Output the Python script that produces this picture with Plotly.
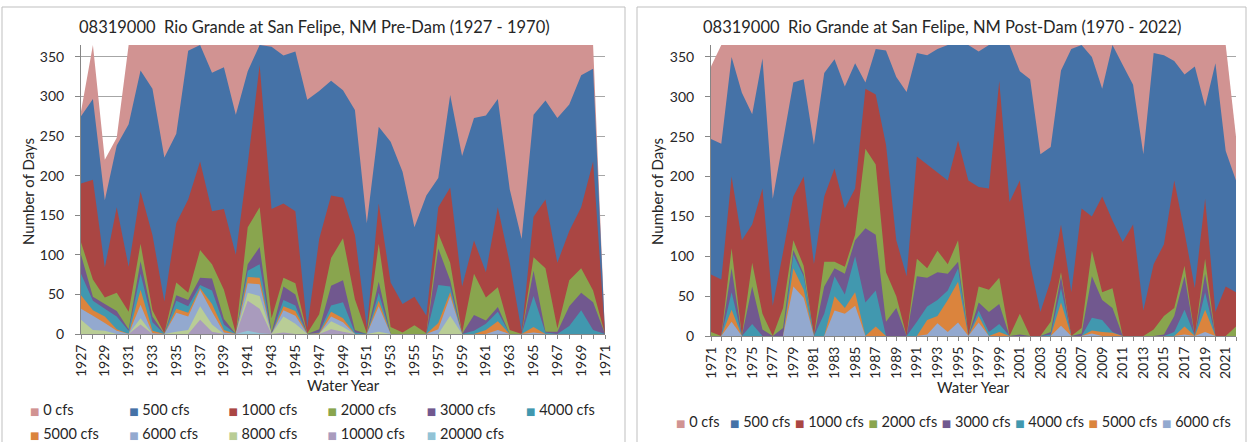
import plotly.graph_objects as go

W, H = 1250, 442

# ---------------- Pre-dam panel (1927 - 1971) ----------------
years_pre = [1927, 1928, 1929, 1930, 1931, 1932, 1933, 1934, 1935, 1936,
             1937, 1938, 1939, 1940, 1941, 1942, 1943, 1944, 1945, 1946,
             1947, 1948, 1949, 1950, 1951, 1952, 1953, 1954, 1955, 1956,
             1957, 1958, 1959, 1960, 1961, 1962, 1963, 1964, 1965, 1966,
             1967, 1968, 1969, 1970, 1971]

pre_0 = [281, 365, 220, 248, 365, 365, 365, 365, 365, 365,
         365, 365, 365, 365, 365, 365, 365, 365, 365, 365,
         365, 365, 365, 365, 365, 365, 365, 365, 365, 365,
         365, 365, 365, 365, 365, 365, 365, 365, 365, 365,
         365, 365, 365, 365, 0]
pre_500 = [275, 297, 169, 238, 265, 333, 310, 223, 253, 358,
           365, 330, 337, 277, 332, 365, 363, 352, 357, 296,
           307, 320, 308, 283, 140, 262, 243, 205, 135, 175,
           197, 302, 225, 273, 276, 297, 183, 120, 277, 295,
           273, 290, 327, 335, 0]
pre_1000 = [190, 195, 84, 160, 85, 180, 125, 41, 140, 170,
            218, 155, 158, 100, 215, 340, 158, 165, 155, 8,
            120, 175, 172, 125, 8, 165, 65, 38, 47, 23,
            160, 185, 60, 118, 78, 160, 90, 3, 148, 170,
            90, 130, 160, 218, 0]
pre_2000 = [116, 69, 46, 52, 28, 114, 30, 1, 65, 52,
            106, 88, 56, 1, 135, 160, 20, 71, 64, 1,
            25, 96, 121, 44, 1, 114, 9, 2, 11, 1,
            127, 90, 1, 76, 46, 59, 5, 0, 97, 83,
            7, 68, 83, 55, 0]
pre_3000 = [100, 47, 38, 29, 6, 92, 22, 0, 49, 43,
            71, 70, 19, 0, 88, 110, 2, 60, 50, 0,
            6, 61, 68, 5, 0, 66, 0, 0, 0, 0,
            108, 68, 0, 24, 17, 34, 0, 0, 80, 3,
            3, 35, 52, 40, 0]
pre_4000 = [76, 42, 32, 22, 4, 76, 15, 0, 42, 35,
            62, 55, 12, 0, 80, 88, 0, 43, 36, 0,
            2, 36, 40, 2, 0, 52, 0, 0, 0, 0,
            62, 60, 0, 4, 13, 28, 0, 0, 48, 2,
            0, 10, 30, 5, 0]
pre_5000 = [49, 30, 22, 6, 0, 56, 4, 0, 32, 27,
            58, 38, 5, 0, 72, 71, 0, 35, 29, 0,
            1, 28, 20, 0, 0, 42, 0, 0, 0, 0,
            14, 53, 0, 0, 5, 16, 0, 0, 9, 0,
            0, 0, 0, 0, 0]
pre_6000 = [32, 23, 14, 4, 0, 37, 1, 0, 27, 22,
            56, 28, 2, 0, 64, 63, 0, 30, 23, 0,
            0, 22, 15, 0, 0, 35, 0, 0, 0, 0,
            6, 48, 0, 0, 0, 5, 0, 0, 2, 0,
            0, 0, 0, 0, 0]
pre_8000 = [18, 5, 4, 0, 0, 20, 0, 0, 3, 5,
            35, 12, 0, 0, 52, 48, 0, 22, 13, 0,
            0, 16, 9, 0, 0, 3, 0, 0, 0, 0,
            0, 23, 0, 0, 0, 0, 0, 0, 0, 0,
            0, 0, 0, 0, 0]
pre_10000 = [0, 0, 0, 0, 0, 12, 0, 0, 0, 0,
             18, 3, 0, 0, 42, 32, 0, 2, 0, 0,
             0, 6, 3, 0, 0, 0, 0, 0, 0, 0,
             0, 0, 0, 0, 0, 0, 0, 0, 0, 0,
             0, 0, 0, 0, 0]
pre_20000 = [0, 0, 0, 0, 0, 0, 0, 0, 0, 0,
             0, 0, 0, 0, 4, 1, 0, 0, 0, 0,
             0, 0, 0, 0, 0, 0, 0, 0, 0, 0,
             0, 0, 0, 0, 0, 0, 0, 0, 0, 0,
             0, 0, 0, 0, 0]

# ---------------- Post-dam panel (1971 - 2022) ----------------
years_post = [1971, 1972, 1973, 1974, 1975, 1976, 1977, 1978, 1979, 1980,
              1981, 1982, 1983, 1984, 1985, 1986, 1987, 1988, 1989, 1990,
              1991, 1992, 1993, 1994, 1995, 1996, 1997, 1998, 1999, 2000,
              2001, 2002, 2003, 2004, 2005, 2006, 2007, 2008, 2009, 2010,
              2011, 2012, 2013, 2014, 2015, 2016, 2017, 2018, 2019, 2020,
              2021, 2022]

post_0 = [338, 365, 365, 365, 365, 365, 365, 365, 365, 365,
          365, 365, 365, 365, 365, 365, 365, 365, 365, 365,
          365, 365, 365, 365, 365, 365, 365, 365, 365, 365,
          365, 365, 365, 365, 365, 365, 365, 365, 365, 365,
          365, 365, 365, 365, 365, 365, 365, 365, 365, 365,
          365, 250]
post_500 = [247, 241, 350, 305, 278, 348, 172, 245, 318, 322,
            240, 330, 347, 313, 342, 318, 360, 358, 325, 306,
            355, 352, 360, 365, 365, 365, 357, 365, 365, 365,
            332, 322, 228, 237, 333, 360, 365, 350, 310, 365,
            340, 315, 228, 355, 352, 345, 328, 338, 288, 342,
            232, 195]
post_1000 = [77, 71, 200, 120, 140, 185, 38, 105, 175, 200,
             90, 175, 210, 160, 185, 310, 303, 240, 120, 75,
             225, 215, 205, 195, 245, 195, 187, 185, 320, 168,
             195, 90, 30, 70, 140, 55, 160, 150, 175, 145,
             118, 140, 32, 90, 115, 195, 130, 60, 172, 30,
             62, 55]
post_2000 = [5, 0, 110, 0, 92, 28, 0, 35, 120, 88,
             0, 93, 93, 87, 127, 235, 215, 80, 50, 0,
             97, 85, 107, 90, 120, 0, 62, 58, 73, 0,
             28, 0, 0, 18, 80, 0, 10, 107, 55, 60,
             0, 0, 0, 8, 25, 35, 88, 0, 97, 0,
             0, 12]
post_3000 = [0, 0, 85, 0, 62, 8, 0, 10, 108, 78,
             0, 62, 85, 78, 120, 135, 127, 18, 35, 0,
             75, 73, 80, 78, 93, 0, 42, 30, 40, 0,
             2, 0, 0, 5, 75, 0, 3, 75, 45, 35,
             0, 0, 0, 0, 2, 25, 75, 0, 78, 0,
             0, 0]
post_4000 = [0, 0, 55, 0, 15, 0, 0, 0, 102, 75,
             0, 28, 75, 52, 100, 42, 57, 0, 0, 0,
             18, 37, 45, 57, 85, 0, 32, 5, 15, 0,
             0, 0, 0, 2, 60, 0, 0, 23, 20, 5,
             0, 0, 0, 0, 0, 5, 33, 0, 55, 0,
             0, 0]
post_5000 = [0, 0, 33, 0, 0, 0, 0, 0, 85, 58,
             0, 0, 50, 35, 55, 0, 12, 0, 0, 0,
             0, 20, 25, 45, 68, 0, 25, 0, 5, 0,
             0, 0, 0, 0, 42, 0, 0, 7, 5, 4,
             0, 0, 0, 0, 0, 0, 12, 0, 33, 0,
             0, 0]
post_6000 = [0, 0, 18, 0, 0, 0, 0, 0, 62, 48,
             0, 0, 32, 28, 38, 0, 0, 0, 0, 0,
             0, 2, 16, 5, 17, 0, 17, 0, 0, 0,
             0, 0, 0, 0, 13, 0, 0, 3, 0, 0,
             0, 0, 0, 0, 0, 0, 2, 0, 5, 0,
             0, 0]

names_pre = ["0 cfs", "500 cfs", "1000 cfs", "2000 cfs", "3000 cfs", "4000 cfs",
             "5000 cfs", "6000 cfs", "8000 cfs", "10000 cfs", "20000 cfs"]
names_post = ["0 cfs", "500 cfs", "1000 cfs", "2000 cfs", "3000 cfs", "4000 cfs",
              "5000 cfs", "6000 cfs"]
series_colors = ["#D19392", "#4572A7", "#AA4643", "#89A54E", "#71588F", "#4198AF",
                 "#DB843D", "#93A9CF", "#B9CD96", "#A99BBD", "#92C3D6"]

pre_series = [pre_0, pre_500, pre_1000, pre_2000, pre_3000, pre_4000,
              pre_5000, pre_6000, pre_8000, pre_10000, pre_20000]
post_series = [post_0, post_500, post_1000, post_2000, post_3000, post_4000,
               post_5000, post_6000]

title_pre = "08319000\u00a0 Rio Grande at San Felipe, NM Pre-Dam (1927 - 1970)"
title_post = "08319000\u00a0 Rio Grande at San Felipe, NM Post-Dam (1970 - 2022)"

TXT = "#262626"
AX = "#868686"
GRID = "#A6A6A6"
FONT = "Lato, DejaVu Sans, sans-serif"
CLEAR = "rgba(0,0,0,0)"

fig = go.Figure()

# overlapping areas, back (0 cfs) to front
for vals, col in zip(pre_series, series_colors):
    fig.add_trace(go.Scatter(x=years_pre, y=vals, mode="none", fill="tozeroy",
                             fillcolor=col, xaxis="x", yaxis="y",
                             showlegend=False, hoverinfo="skip"))
for vals, col in zip(post_series, series_colors):
    fig.add_trace(go.Scatter(x=years_post, y=vals, mode="none", fill="tozeroy",
                             fillcolor=col, xaxis="x2", yaxis="y2",
                             showlegend=False, hoverinfo="skip"))


def legend_label(name, col):
    return ('<span style="color:%s;font-size:10px;font-family:DejaVu Sans">\u25A0</span> %s'
            % (col, name))


# legend entries: left panel (two rows), right panel (one row)
pre_widths = [64.2, 64.2, 64.2, 64.2, 64.2, 80,
              64.2, 64.2, 64.2, 64.2, 90]
for i, (name, col, lw) in enumerate(zip(names_pre, series_colors, pre_widths)):
    fig.add_trace(go.Scatter(x=[None], y=[None], mode="markers",
                             marker=dict(size=1, color=CLEAR, line=dict(width=0, color=CLEAR)),
                             name=legend_label(name, col), xaxis="x", yaxis="y",
                             legend="legend" if i < 6 else "legend2",
                             legendwidth=lw, hoverinfo="skip"))
post_widths = [9, 20, 28.4, 28.4, 28.4, 28.4, 28.4, 75]
for name, col, lw in zip(names_post, series_colors, post_widths):
    fig.add_trace(go.Scatter(x=[None], y=[None], mode="markers",
                             marker=dict(size=1, color=CLEAR, line=dict(width=0, color=CLEAR)),
                             name=legend_label(name, col), xaxis="x2", yaxis="y2",
                             legend="legend3", legendwidth=lw, hoverinfo="skip"))


def xaxis_cfg(domain, rng, anchor):
    return dict(domain=domain, range=rng, anchor=anchor, tick0=rng[0], dtick=2,
                tickangle=-90, showgrid=False, zeroline=False,
                showline=True, linecolor=AX, linewidth=1,
                ticks="outside", ticklen=4, tickcolor=AX,
                minor=dict(dtick=1, tick0=rng[0], ticks="outside", ticklen=4,
                           tickcolor=AX, showgrid=False),
                tickfont=dict(family=FONT, size=14, color=TXT), fixedrange=True)


def yaxis_cfg(domain, anchor):
    return dict(domain=domain, range=[0, 365], anchor=anchor,
                tickvals=[0, 50, 100, 150, 200, 250, 300, 350],
                showgrid=True, gridcolor=GRID, gridwidth=1, zeroline=False,
                showline=True, linecolor=AX, linewidth=1,
                ticks="outside", ticklen=5, tickcolor=AX, ticklabelstandoff=8,
                tickfont=dict(family=FONT, size=14, color=TXT), fixedrange=True)


leg_common = dict(orientation="h", xanchor="left", yanchor="middle",
                  bgcolor=CLEAR, borderwidth=0,
                  font=dict(family=FONT, size=14.5, color=TXT))

axis_title_font = dict(family=FONT, size=15, color=TXT)

fig.update_layout(
    width=W, height=H,
    margin=dict(l=0, r=0, t=0, b=0, autoexpand=False),
    paper_bgcolor="white", plot_bgcolor="white",
    font=dict(family=FONT, size=14, color=TXT),
    hovermode=False,
    xaxis=xaxis_cfg([81 / W, 605 / W], [1927, 1971], "y"),
    yaxis=yaxis_cfg([1 - 334 / H, 1 - 45.1 / H], "x"),
    xaxis2=xaxis_cfg([711 / W, 1236 / W], [1971, 2022], "y2"),
    yaxis2=yaxis_cfg([1 - 336 / H, 1 - 45 / H], "x2"),
    legend=dict(leg_common, x=0, y=1 - 409 / H, indentation=-10),
    legend2=dict(leg_common, x=0, y=1 - 433 / H, indentation=-10),
    legend3=dict(leg_common, x=636 / W, y=1 - 421 / H),
    shapes=[
        dict(type="rect", xref="paper", yref="paper", x0=2 / W, x1=625 / W,
             y0=-0.02, y1=1 - 7 / H, line=dict(color="#BFBFBF", width=1),
             fillcolor=CLEAR, layer="below"),
        dict(type="rect", xref="paper", yref="paper", x0=637 / W, x1=1246 / W,
             y0=-0.02, y1=1 - 7 / H, line=dict(color="#BFBFBF", width=1),
             fillcolor=CLEAR, layer="below"),
    ],
    annotations=[
        dict(text=title_pre, x=314 / W, y=1 - 27 / H, xref="paper", yref="paper",
             showarrow=False, xanchor="center", yanchor="middle",
             font=dict(family=FONT, size=16.5, color=TXT)),
        dict(text=title_post, x=942 / W, y=1 - 27 / H, xref="paper", yref="paper",
             showarrow=False, xanchor="center", yanchor="middle",
             font=dict(family=FONT, size=16.5, color=TXT)),
        dict(text="Number of Days", x=28 / W, y=1 - 192 / H, xref="paper", yref="paper",
             showarrow=False, textangle=-90, xanchor="center", yanchor="middle",
             font=axis_title_font),
        dict(text="Number of Days", x=657 / W, y=1 - 192 / H, xref="paper", yref="paper",
             showarrow=False, textangle=-90, xanchor="center", yanchor="middle",
             font=axis_title_font),
        dict(text="Water Year", x=343 / W, y=1 - 385 / H, xref="paper", yref="paper",
             showarrow=False, xanchor="center", yanchor="middle",
             font=axis_title_font),
        dict(text="Water Year", x=973 / W, y=1 - 387 / H, xref="paper", yref="paper",
             showarrow=False, xanchor="center", yanchor="middle",
             font=axis_title_font),
    ],
)

fig.write_html("out.html")
